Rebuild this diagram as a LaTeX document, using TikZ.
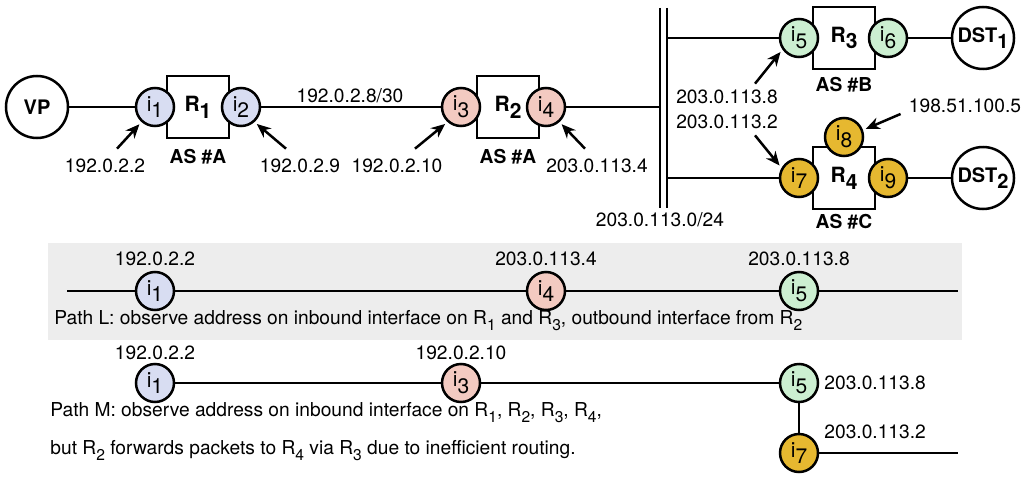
\documentclass[tikz,border=0pt]{standalone}
\usepackage{fontspec}
\setmainfont{TeX Gyre Heros}
\usetikzlibrary{arrows.meta}

\newcommand{\lo}[1]{\raisebox{-0.6ex}{#1}}
\newcommand{\tsub}[1]{\raisebox{-0.6ex}{\fontsize{7.8}{9}\selectfont #1}}
\definecolor{ifblue}{HTML}{D8DDF2}
\definecolor{ifpink}{HTML}{F3CAC1}
\definecolor{ifgreen}{HTML}{CCEFD1}
\definecolor{ifgold}{HTML}{E6B830}
\definecolor{bandgray}{HTML}{EDEDED}

\tikzset{
  iface/.style={circle, draw, line width=1.25pt, minimum size=19pt, inner sep=0pt,
    font=\fontsize{10.5}{12}\selectfont},
  router/.style={draw, line width=1.25pt, minimum width=31pt, minimum height=31pt,
    inner sep=0pt, font=\bfseries\fontsize{10.5}{12}\selectfont},
  host/.style={circle, draw, line width=1.25pt, minimum size=31pt, inner sep=0pt,
    font=\bfseries\fontsize{10}{12}\selectfont},
  addr/.style={inner sep=1pt, font=\fontsize{9.6}{11}\selectfont},
  asname/.style={inner sep=1pt, font=\bfseries\fontsize{9.6}{11}\selectfont},
  link/.style={line width=1.25pt},
  pointer/.style={line width=1.25pt, -{Stealth[length=7pt,width=6pt]}, shorten >=1.5pt},
}

\begin{document}
\begin{tikzpicture}[x=0.5pt, y=-0.5pt]
    \useasboundingbox (0,0) rectangle (1026,476);
    % topology
    \node[host] (vp) at (37,107) {VP};
    \node[router] (r1) at (198,107) {R\lo{1}};
    \node[router] (r2) at (508,107) {R\lo{2}};
    \node[router] (r3) at (844,38) {R\lo{3}};
    \node[router] (r4) at (844,178) {R\lo{4}};
    \node[iface, fill=ifblue] (i1) at (155,107) {i\lo{1}};
    \node[iface, fill=ifblue] (i2) at (241,107) {i\lo{2}};
    \node[iface, fill=ifpink] (i3) at (461,107) {i\lo{3}};
    \node[iface, fill=ifpink] (i4) at (546,107) {i\lo{4}};
    \node[iface, fill=ifgreen] (i5) at (799,38) {i\lo{5}};
    \node[iface, fill=ifgreen] (i6) at (888,38) {i\lo{6}};
    \node[iface, fill=ifgold] (i7) at (799,178) {i\lo{7}};
    \node[iface, fill=ifgold] (i8) at (844,137) {i\lo{8}};
    \node[iface, fill=ifgold] (i9) at (888,178) {i\lo{9}};
    \node[host] (dst1) at (983,38) {DST\lo{1}};
    \node[host] (dst2) at (983,178) {DST\lo{2}};
    \node[asname] (as1) at (198,157) {AS \#A};
    \node[asname] (as2) at (508,157) {AS \#A};
    \node[asname] (as3) at (844,85) {AS \#B};
    \node[asname] (as4) at (844,222) {AS \#C};

    % shared segment
    \coordinate (bl1) at (660,8);
    \coordinate (bl2) at (660,208);
    \coordinate (br1) at (667,8);
    \coordinate (br2) at (667,208);
    \draw[link] (bl1) -- (bl2);
    \draw[link] (br1) -- (br2);

    \draw[link] (vp) -- (i1);
    \draw[link] (i2) -- (i3);
    \draw[link] (i4) -- (i4 -| bl1);
    \draw[link] (i5 -| br1) -- (i5);
    \draw[link] (i7 -| br1) -- (i7);
    \draw[link] (i6) -- (dst1);
    \draw[link] (i9) -- (dst2);

    % addresses
    \node[addr] (n12) at (350,96) {192.0.2.8/30};
    \node[addr] (nbus) at (660,220) {203.0.113.0/24};
    \node[addr] (a1) at (105,166) {192.0.2.2};
    \node[addr] (a2) at (300,166) {192.0.2.9};
    \node[addr] (a3) at (397,166) {192.0.2.10};
    \node[addr] (a4) at (597,166) {203.0.113.4};
    \node[addr] (a5) at (727,97) {203.0.113.8};
    \node[addr] (a7) at (727,122) {203.0.113.2};
    \node[addr] (a8) at (965,106) {198.51.100.5};
    \draw[pointer] ([shift={(6pt,4pt)}]a1.north) -- (i1.228);
    \draw[pointer] ([shift={(-7pt,4pt)}]a2.north) -- (i2.312);
    \draw[pointer] ([shift={(9pt,4pt)}]a3.north) -- (i3.228);
    \draw[pointer] ([shift={(-6pt,4pt)}]a4.north) -- (i4.312);
    \draw[pointer] ([shift={(14pt,2pt)}]a5.north) -- (i5.215);
    \draw[pointer] ([shift={(14pt,-2pt)}]a7.south) -- (i7.150);
    \draw[pointer] ([shift={(-3pt,-4pt)}]a8.west) -- (i8.20);

    % path L
    \fill[bandgray] (48,243) rectangle (962,340);
    \coordinate (l0) at (67,291);
    \coordinate (l9) at (958,291);
    \node[iface, fill=ifblue] (li1) at (155,291) {i\lo{1}};
    \node[iface, fill=ifpink] (li4) at (546,291) {i\lo{4}};
    \node[iface, fill=ifgreen] (li5) at (799,291) {i\lo{5}};
    \draw[link] (l0) -- (li1);
    \draw[link] (li1) -- (li4);
    \draw[link] (li4) -- (li5);
    \draw[link] (li5) -- (l9);
    \node[addr] (la1) at (155,259) {192.0.2.2};
    \node[addr] (la4) at (546,259) {203.0.113.4};
    \node[addr] (la5) at (799,259) {203.0.113.8};
    \node[addr, anchor=west] (ltext) at (52,321)
      {Path L: observe address on inbound interface on R\tsub{1} and R\tsub{3}, outbound interface from R\tsub{2}};

    % path M
    \coordinate (m9) at (958,453);
    \node[iface, fill=ifblue] (mi1) at (155,383) {i\lo{1}};
    \node[iface, fill=ifpink] (mi3) at (461,383) {i\lo{3}};
    \node[iface, fill=ifgreen] (mi5) at (799,383) {i\lo{5}};
    \node[iface, fill=ifgold] (mi7) at (799,453) {i\lo{7}};
    \draw[link] (mi1) -- (mi3);
    \draw[link] (mi3) -- (mi5);
    \draw[link] (mi5) -- (mi7);
    \draw[link] (mi7) -- (m9);
    \node[addr] (ma1) at (155,353) {192.0.2.2};
    \node[addr] (ma3) at (461,353) {192.0.2.10};
    \node[addr, anchor=west] (ma5) at (822,383) {203.0.113.8};
    \node[addr, anchor=west] (ma7) at (822,432) {203.0.113.2};
    \node[addr, anchor=west] (mtext1) at (48,413)
      {Path M: observe address on inbound interface on R\tsub{1}, R\tsub{2}, R\tsub{3}, R\tsub{4},};
    \node[addr, anchor=west] (mtext2) at (48,451)
      {but R\tsub{2} forwards packets to R\tsub{4} via R\tsub{3} due to inefficient routing.};
\end{tikzpicture}
\end{document}
